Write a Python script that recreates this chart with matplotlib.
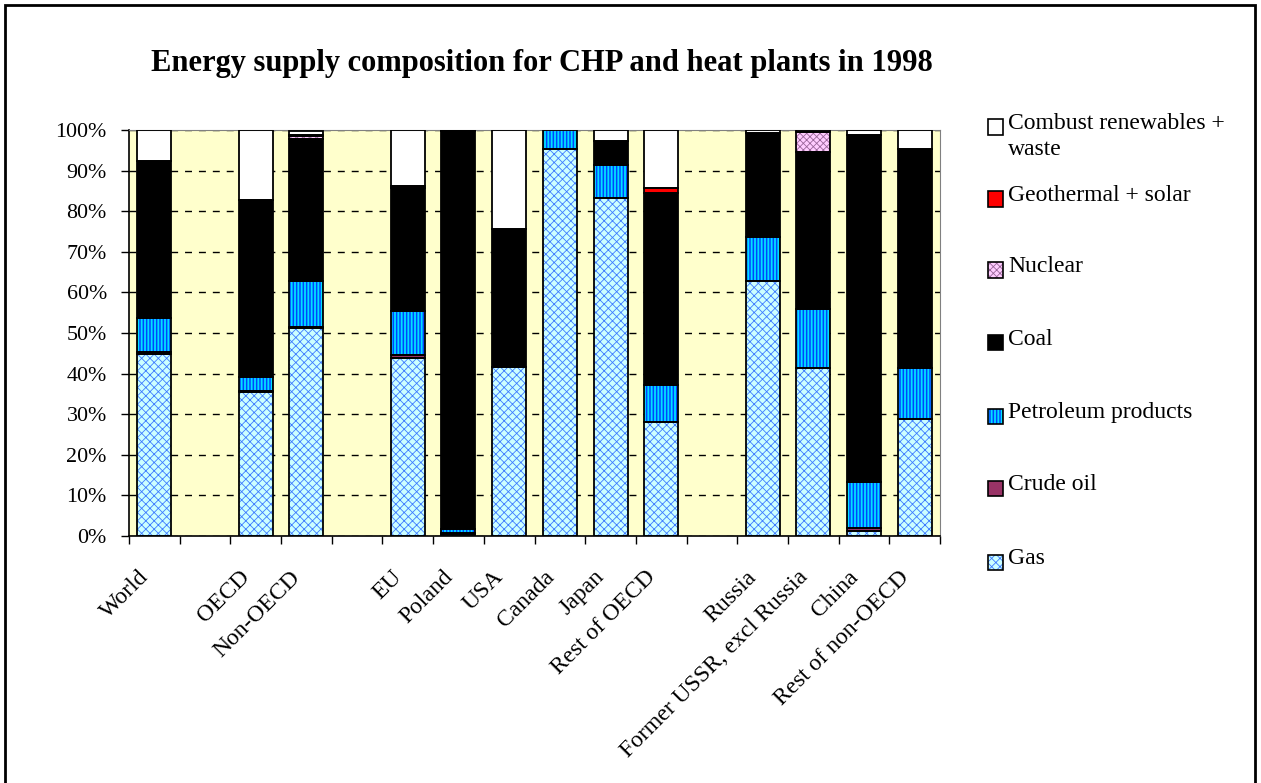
import numpy as np
import matplotlib
matplotlib.use('Agg')
from matplotlib import pyplot as plt
from matplotlib import transforms
from matplotlib.patches import Rectangle

# Slots along the x axis; empty strings are the gaps between groups
categories = ['World', '', 'OECD', 'Non-OECD', '', 'EU', 'Poland', 'USA',
              'Canada', 'Japan', 'Rest of OECD', '', 'Russia',
              'Former USSR, excl Russia', 'China', 'Rest of non-OECD']

# Shares in % for the 13 regions (gaps skipped)
gas        = [44.8, 35.5, 51.2, 43.8,  0.6, 41.7, 95.2, 83.2, 28.2, 62.8, 41.5,  1.3, 28.8]
crude_oil  = [ 0.6,  0.2,  0.2,  0.8,  0.1,  0.0,  0.0,  0.0,  0.0,  0.0,  0.0,  0.7,  0.0]
petroleum  = [ 8.2,  3.5, 11.4, 10.9,  1.1,  0.0,  4.8,  8.2,  9.0, 10.9, 14.3, 11.4, 12.5]
coal       = [38.8, 43.6, 34.9, 30.3, 97.9, 33.9,  0.0,  6.0, 47.4, 25.5, 38.9, 85.4, 53.9]
nuclear    = [ 0.0,  0.0,  0.9,  0.0,  0.0,  0.0,  0.0,  0.0,  0.0,  0.0,  4.7,  0.0,  0.0]
geothermal = [ 0.0,  0.0,  0.1,  0.4,  0.0,  0.0,  0.0,  0.0,  1.0,  0.0,  0.0,  0.0,  0.0]
combust    = [ 7.6, 17.2,  1.1, 13.8,  0.3, 24.4,  0.0,  2.6, 14.4,  0.8,  0.6,  1.2,  4.8]

series_names = ['Gas', 'Crude oil', 'Petroleum products', 'Coal', 'Nuclear',
                'Geothermal + solar', 'Combust renewables +\nwaste']
series_values = [gas, crude_oil, petroleum, coal, nuclear, geothermal, combust]

# (face colour, hatch, hatch colour, hatch width)
styles = [('#ccffff', 'xxxx', '#3d7bff', 0.6),
          ('#993366', None, None, 0),
          ('#0044ff', '|||||', '#00e0ff', 1.3),
          ('#000000', None, None, 0),
          ('#ffccff', 'xxxxx', '#996699', 0.6),
          ('#ff0000', None, None, 0),
          ('#ffffff', None, None, 0)]

plt.rcParams['font.family'] = ['Liberation Serif', 'DejaVu Serif']
plt.rcParams['hatch.linewidth'] = 0.8


def set_hatch_width(patch, w):
    # per-artist hatch width where this matplotlib allows it
    if w and hasattr(patch, 'set_hatch_linewidth'):
        patch.set_hatch_linewidth(w)


fig = plt.figure(figsize=(12.61, 7.83), dpi=100)
W, H = 1261.0, 783.0
ax = fig.add_axes([129 / W, 1 - 536 / H, (940 - 129) / W, (536 - 130) / H])
ax.set_facecolor('#ffffcc')

positions = [i for i, c in enumerate(categories) if c]
bar_w = 0.67

bottom = np.zeros(len(positions))
for vals, (fc, hatch, hc, hw) in zip(series_values, styles):
    vals = np.array(vals)
    if hatch:
        bars = ax.bar(positions, vals, bar_w, bottom=bottom, color=fc, edgecolor=hc,
                      hatch=hatch, linewidth=0, zorder=2)
        for b in bars:
            set_hatch_width(b, hw)
    else:
        ax.bar(positions, vals, bar_w, bottom=bottom, color=fc, linewidth=0, zorder=2)
    mask = vals > 0
    ax.bar(np.array(positions)[mask], vals[mask], bar_w, bottom=bottom[mask],
           fill=False, edgecolor='black', linewidth=1.3, zorder=3)
    bottom += vals

ax.set_xlim(-0.5, len(categories) - 0.5)
ax.set_ylim(0, 100)
ax.set_yticks(np.arange(0, 101, 10))
ax.set_yticklabels(['%d%%' % v for v in range(0, 101, 10)], fontsize=15.8)
ax.tick_params(axis='y', direction='out', length=6, width=1, pad=10)
ax.set_xticks(np.arange(-0.5, len(categories), 1))
ax.set_xticklabels([])
ax.tick_params(axis='x', direction='out', length=6, width=1)
ax.yaxis.grid(True, linestyle=(0, (5, 5)), color='black', linewidth=1)
ax.set_axisbelow(True)
for side in ['top', 'right']:
    ax.spines[side].set_color('#808080')
for side in ['left', 'bottom']:
    ax.spines[side].set_color('black')
    ax.spines[side].set_linewidth(1.2)

# rotated category labels
lab_tr = transforms.offset_copy(ax.get_xaxis_transform(), fig=fig, x=-9, y=-38, units='dots')
for i, c in enumerate(categories):
    if c:
        ax.text(i, 0, c, transform=lab_tr, rotation=45, ha='right', va='center',
                rotation_mode='anchor', fontsize=17)

fig.text(542 / W, 1 - 64 / H, 'Energy supply composition for CHP and heat plants in 1998',
         ha='center', va='center', fontsize=22, fontweight='bold')

# legend, drawn by hand to keep the wide Excel spacing
rows_y = [562, 488, 416, 343, 270, 199, 127]
for name, (fc, hatch, hc, hw), y in zip(series_names, styles, rows_y):
    box = Rectangle((988 / W, 1 - (y + 7.5) / H), 15 / W, 15 / H, transform=fig.transFigure,
                    facecolor=fc, edgecolor=hc if hatch else 'black', hatch=hatch,
                    linewidth=0 if hatch else 1.2)
    set_hatch_width(box, hw)
    fig.add_artist(box)
    if hatch:
        fig.add_artist(Rectangle((988 / W, 1 - (y + 7.5) / H), 15 / W, 15 / H,
                                 transform=fig.transFigure, fill=False,
                                 edgecolor='black', linewidth=1.2))
    fig.text(1008 / W, 1 - (y - 14) / H, name, ha='left', va='top', fontsize=17,
             linespacing=1.3)

# outer chart frame
fig.add_artist(Rectangle((5 / W, -0.05), 1250 / W, 1.05 - 5 / H, transform=fig.transFigure,
                         fill=False, edgecolor='black', linewidth=2))

fig.savefig('out.png', dpi=100)
